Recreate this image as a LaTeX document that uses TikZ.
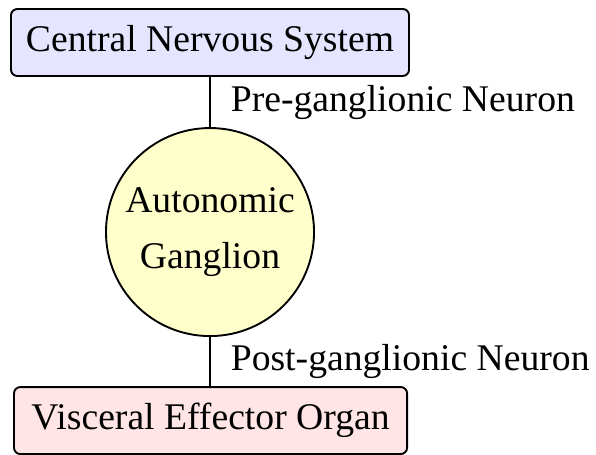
\documentclass[tikz,border=0pt]{standalone}
\usepackage{fontspec}
\setmainfont{Liberation Serif}
\usetikzlibrary{calc}
\definecolor{CnsClr}{rgb}{0.9,0.9,1}
\definecolor{GangClr}{rgb}{1,1,0.8}
\definecolor{OrganClr}{rgb}{1,0.9,0.9}

\begin{document}
\begin{tikzpicture}[
  font=\fontsize{12}{18}\selectfont,
  box/.style={draw=black,semithick,rounded corners=2pt,minimum height=0.75cm,inner sep=4pt},
  ganglion/.style={draw=black,semithick,circle,fill=GangClr,minimum size=2.33cm,align=center,inner sep=0pt},
  nerve/.style={semithick,black}]
\useasboundingbox (0,0) rectangle (6.675,5.085);

\node[box,fill=CnsClr,minimum width=4.458cm] (cns) at (2.352,4.609) {Central Nervous System};
\node[ganglion] (gang) at (2.352,2.486) {Autonomic\\Ganglion};
\node[box,fill=OrganClr,minimum width=4.402cm] (organ) at (2.358,0.375) {Visceral Effector Organ};

\draw[nerve] (cns) -- node[right=3pt] {Pre-ganglionic Neuron} (gang);
\draw[nerve] (gang) -- node[right=3pt] {Post-ganglionic Neuron} (organ.north -| gang.south);

\end{tikzpicture}
\end{document}
